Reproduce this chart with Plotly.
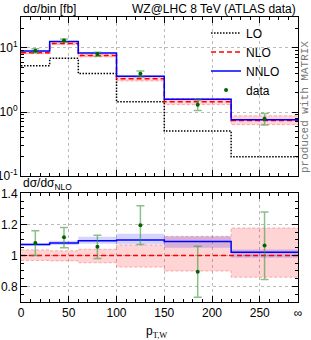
import plotly.graph_objects as go

# ---- data ----
bin_edges = [0, 30, 60, 100, 150, 220, 290]
bin_centers = [15, 45, 80, 125, 185, 255]
lo = [5.3, 6.9, 4.0, 1.45, 0.505, 0.2]
nlo = [8.4, 11.7, 7.6, 3.3, 1.45, 0.74]
nlo_up_ratio = [1.036, 1.03, 1.04, 1.066, 1.123, 1.177]
nlo_dn_ratio = [0.968, 0.965, 0.953, 0.925, 0.90, 0.86]
nnlo_ratio = [1.07, 1.08, 1.095, 1.10, 1.09, 1.02]
nnlo_up_ratio = [1.08, 1.095, 1.12, 1.14, 1.123, 1.038]
nnlo_dn_ratio = [1.062, 1.068, 1.075, 1.07, 1.05, 0.985]
data_ratio = [1.08, 1.117, 1.057, 1.195, 0.895, 1.064]
data_up_ratio = [1.16, 1.18, 1.13, 1.32, 1.06, 1.28]
data_dn_ratio = [1.0, 1.05, 0.98, 1.07, 0.73, 0.845]
xtick_vals = [0, 50, 100, 150, 200, 250, 290]
xtick_text = ["0", "50", "100", "150", "200", "250", "∞"]

FONT = "Liberation Sans, Arial, sans-serif"


def step(vals):
    return list(vals) + [vals[-1]]


def mul(a, b):
    return [x * y for x, y in zip(a, b)]


nnlo = mul(nlo, nnlo_ratio)
data = mul(nlo, data_ratio)
data_up = [u - c for u, c in zip(mul(nlo, data_up_ratio), data)]
data_dn = [c - d for d, c in zip(mul(nlo, data_dn_ratio), data)]

RED_FILL = "rgba(255,0,0,0.17)"
RED_EDGE = "rgba(255,120,120,0.6)"
BLUE_FILL = "rgba(0,0,255,0.17)"
GREEN_ERR = "rgba(60,150,60,0.6)"
LO_DASH = "1.5px,1.5px"
NLO_DASH = "5px,3px"
EDGE_DASH = "3px,2px"

fig = go.Figure()


def add_band(up, dn, fill, edge, xa, ya):
    fig.add_trace(go.Scatter(x=bin_edges, y=step(dn), mode="lines",
                             line=dict(shape="hv", color=edge, width=1, dash=EDGE_DASH),
                             showlegend=False, hoverinfo="skip", xaxis=xa, yaxis=ya))
    fig.add_trace(go.Scatter(x=bin_edges, y=step(up), mode="lines", fill="tonexty",
                             fillcolor=fill,
                             line=dict(shape="hv", color=edge, width=1, dash=EDGE_DASH),
                             showlegend=False, hoverinfo="skip", xaxis=xa, yaxis=ya))


# top panel
add_band(mul(nlo, nlo_up_ratio), mul(nlo, nlo_dn_ratio), RED_FILL, RED_EDGE, "x", "y")
add_band(mul(nlo, nnlo_up_ratio), mul(nlo, nnlo_dn_ratio), BLUE_FILL, "rgba(0,0,0,0)", "x", "y")

fig.add_trace(go.Scatter(x=bin_edges, y=step(lo), mode="lines", name="LO",
                         line=dict(shape="hv", color="black", width=1.5, dash=LO_DASH),
                         xaxis="x", yaxis="y"))
fig.add_trace(go.Scatter(x=bin_edges, y=step(nlo), mode="lines", name="NLO",
                         line=dict(shape="hv", color="red", width=1.5, dash=NLO_DASH),
                         xaxis="x", yaxis="y"))
fig.add_trace(go.Scatter(x=bin_edges, y=step(nnlo), mode="lines", name="NNLO",
                         line=dict(shape="hv", color="blue", width=1.5),
                         xaxis="x", yaxis="y"))
fig.add_trace(go.Scatter(x=bin_centers, y=data, mode="markers", name="data",
                         marker=dict(color="darkgreen", size=4),
                         error_y=dict(type="data", symmetric=False, array=data_up,
                                      arrayminus=data_dn, color=GREEN_ERR,
                                      thickness=1.5, width=4),
                         xaxis="x", yaxis="y"))

# ratio panel
add_band(nlo_up_ratio, nlo_dn_ratio, RED_FILL, RED_EDGE, "x2", "y2")
add_band(nnlo_up_ratio, nnlo_dn_ratio, BLUE_FILL, "rgba(0,0,0,0)", "x2", "y2")
fig.add_trace(go.Scatter(x=bin_edges, y=step([1.0] * 6), mode="lines",
                         line=dict(shape="hv", color="red", width=1.5, dash=NLO_DASH),
                         showlegend=False, xaxis="x2", yaxis="y2"))
fig.add_trace(go.Scatter(x=bin_edges, y=step(nnlo_ratio), mode="lines",
                         line=dict(shape="hv", color="blue", width=1.5),
                         showlegend=False, xaxis="x2", yaxis="y2"))
fig.add_trace(go.Scatter(x=bin_centers, y=data_ratio, mode="markers",
                         marker=dict(color="darkgreen", size=4),
                         error_y=dict(type="data", symmetric=False,
                                      array=[u - c for u, c in zip(data_up_ratio, data_ratio)],
                                      arrayminus=[c - d for d, c in zip(data_dn_ratio, data_ratio)],
                                      color=GREEN_ERR, thickness=1.5, width=4),
                         showlegend=False, xaxis="x2", yaxis="y2"))

axis_common = dict(showline=True, linecolor="black", linewidth=1, mirror="allticks",
                   ticks="inside", ticklen=6, tickcolor="black", zeroline=False,
                   automargin=False,
                   showgrid=True, gridcolor="#bbbbbb", griddash="dot", gridwidth=1,
                   tickfont=dict(size=12, color="black", family=FONT))

minor_log = [m * 10 ** e for e in (-1, 0, 1) for m in range(2, 10)]

fig.update_layout(
    width=311, height=340,
    margin=dict(l=21, r=13, t=17, b=38),
    paper_bgcolor="white", plot_bgcolor="white",
    font=dict(family=FONT, size=12, color="black"),
    xaxis=dict(anchor="y", domain=[0, 1], range=[0, 290], tickvals=xtick_vals,
               showticklabels=False,
               minor=dict(ticks="inside", ticklen=3, dtick=10, tick0=0, showgrid=False),
               **axis_common),
    yaxis=dict(domain=[0.442, 1], type="log", range=[-1, 1.484],
               tickvals=[0.1, 1, 10],
               ticktext=["10<sup>-1</sup>", "10<sup>0</sup>", "10<sup>1</sup>"],
               minor=dict(ticks="inside", ticklen=3, tickvals=minor_log, showgrid=False),
               **axis_common),
    xaxis2=dict(anchor="y2", domain=[0, 1], range=[0, 290], tickvals=xtick_vals,
                ticktext=xtick_text,
                minor=dict(ticks="inside", ticklen=3, dtick=10, tick0=0, showgrid=False),
                **axis_common),
    yaxis2=dict(domain=[0, 0.381], range=[0.7, 1.4], tickvals=[0.8, 1.0, 1.2, 1.4],
                ticktext=["0.8", "1", "1.2", "1.4"],
                minor=dict(ticks="inside", ticklen=3, dtick=0.05, tick0=0, showgrid=False),
                **axis_common),
    legend=dict(x=0.668, y=0.995, xanchor="left", yanchor="top", traceorder="normal",
                bgcolor="rgba(0,0,0,0)", font=dict(size=12, family=FONT),
                tracegroupgap=0, itemwidth=30),
    showlegend=True,
)

fig.add_annotation(text="dσ/bin [fb]", xref="paper", yref="paper", x=0, y=1,
                   xanchor="left", yanchor="bottom", showarrow=False,
                   font=dict(size=12, family=FONT), yshift=-1)
fig.add_annotation(text="WZ@LHC 8 TeV (ATLAS data)", xref="paper", yref="paper", x=1, y=1,
                   xanchor="right", yanchor="bottom", showarrow=False,
                   font=dict(size=12, family=FONT), yshift=-1)
fig.add_annotation(text="dσ/dσ<sub>NLO</sub>", xref="paper", yref="paper", x=0, y=0.381,
                   xanchor="left", yanchor="bottom", showarrow=False,
                   font=dict(size=12, family=FONT), yshift=-1)
fig.add_annotation(text="p<sub><span style='font-family:Liberation Serif'>T,W</span></sub>",
                   xref="paper", yref="paper", x=0.49, y=0,
                   xanchor="center", yanchor="top", showarrow=False,
                   font=dict(size=12, family=FONT), yshift=-20)
fig.add_annotation(text="produced with MATRIX", xref="paper", yref="paper", x=1.0, y=0.684,
                   xanchor="center", yanchor="middle", showarrow=False, textangle=-90,
                   font=dict(size=11, family="Liberation Mono, DejaVu Sans Mono, monospace",
                             color="#777777"), xshift=7)

fig.write_html("out.html", config={"displayModeBar": False},
               post_script="document.body.style.margin='0';document.body.style.overflow='hidden';")
